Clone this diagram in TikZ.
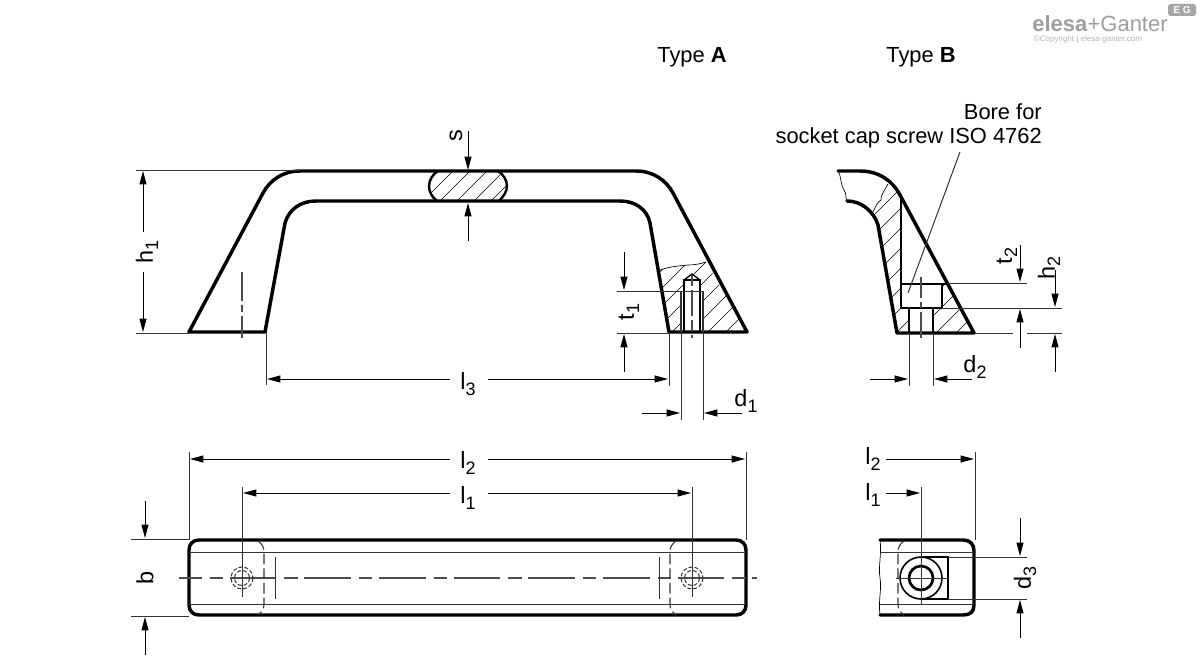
\documentclass[tikz,border=0pt]{standalone}
\usepackage{fontspec}
\setmainfont{Liberation Sans}
\usetikzlibrary{arrows.meta}
\tikzset{
  outline/.style={line width=2.6pt,line join=round,line cap=round},
  midline/.style={line width=1.5pt,line join=miter},
  thinline/.style={line width=0.75pt,color=black!80},
  hatchline/.style={line width=0.5pt},
  dimline/.style={line width=0.7pt,-{Stealth[length=10pt,width=5.2pt,inset=0pt]}},
  centreline/.style={line width=0.8pt,color=black!70,dash pattern=on 35pt off 6pt on 10pt off 5pt,dash phase=18pt},
  hiddenline/.style={line width=0.8pt,color=black!80,dash pattern=on 8pt off 3pt},
  breakline/.style={line width=0.5pt},
  textlabel/.style={font=\fontsize{16.4}{20}\selectfont,inner sep=0pt},
  dimlabel/.style={font=\fontsize{17.6}{20}\selectfont,inner sep=3pt},
}
\newcommand{\hatchfrom}[3]{\foreach \hx in {#1,...,#2} {\draw[hatchline] (\hx,#3) -- ++(220,-220);}}
\newcommand{\idx}[1]{\raisebox{-0.42ex}{\fontsize{13.5}{14}\selectfont #1}}

\begin{document}
\begin{tikzpicture}[x=0.75pt,y=0.75pt,yscale=-1,xscale=1]
\useasboundingbox (0,0) rectangle (1200,660);

% Text Node
\draw (692,57) node (typea) [textlabel] {Type \textbf{A}};
\draw (921,57) node (typeb) [textlabel] {Type \textbf{B}};
\draw (1042,112) node (boretxt) [textlabel,anchor=east] {Bore for};
\draw (1042,138) node (screwtxt) [textlabel,anchor=east] {socket cap screw ISO 4762};

% Logo
\draw (1100,24) node (logotxt) [inner sep=0pt,color=black!38,font=\fontsize{16.5}{18}\selectfont] {\textbf{elesa}+Ganter};
\draw (1088,39) node (copytxt) [inner sep=0pt,color=black!30,font=\fontsize{6}{7}\selectfont] {©Copyright | elesa-ganter.com};
\draw (1182,10) node (logobox) [inner sep=0pt,minimum width=21pt,minimum height=9pt,rounded corners=2pt,fill=black!35,text=white,font=\fontsize{7.5}{8}\bfseries\selectfont] {E G};

%Shape: hatching Type A
\begin{scope}
\clip (660,270) .. controls (672,266) and (680,266) .. (688,265) .. controls (694,265) and (700,264) .. (706,262) -- (747,332) -- (669,332) -- cycle;
\hatchfrom{600,618}{744}{332}
\end{scope}
\fill[white] (681,291) rectangle (703,332);
\fill[white] (684,279) -- (692,274) -- (700,279) -- (700,291) -- (684,291) -- cycle;
\draw[breakline] (660,270) .. controls (672,266) and (680,266) .. (688,265) .. controls (694,265) and (700,264) .. (706,262);

%Shape: section at s
\begin{scope}
\clip (438,171) -- (498,171) .. controls (503,174) and (507,180) .. (507,186) .. controls (507,192) and (503,197) .. (499,201) -- (437,201) .. controls (432,197) and (429,192) .. (429,186) .. controls (429,180) and (433,174) .. (438,171) -- cycle;
\hatchfrom{423,440}{500}{201}
\end{scope}
\draw[midline,line width=1.8pt] (438,171) .. controls (433,174) and (429,180) .. (429,186) .. controls (429,192) and (432,197) .. (437,201);
\draw[midline,line width=1.8pt] (498,171) .. controls (503,174) and (507,180) .. (507,186) .. controls (507,192) and (503,197) .. (499,201);

%Shape: handle front
\draw[outline] (189,332) -- (263,193) .. controls (270,180) and (283,171) .. (300,171) -- (636,171) .. controls (653,171) and (666,180) .. (673,193) -- (747,332) -- (669,332) -- (650,223) .. controls (647,209) and (635,201) .. (620,201) -- (316,201) .. controls (301,201) and (289,209) .. (285,223) -- (265,332) -- cycle;

%Shape: threaded hole
\draw[midline] (684,332) -- (684,280) -- (700,280) -- (700,332);
\draw[line width=1pt] (684,280) -- (692,274) -- (700,280);
\draw[thinline,line width=0.9pt] (681,291) -- (681,332);
\draw[thinline,line width=0.9pt] (703,291) -- (703,332);
\draw[centreline,dash pattern=on 8pt off 3pt on 20pt off 3pt,dash phase=0pt] (692,275) -- (692,338);
\draw[centreline,dash pattern=on 22pt off 3pt on 5pt off 3pt on 20pt,dash phase=0pt] (242,272) -- (242,338);

% dimension s
\draw[dimline] (468,131) -- (468,170);
\draw[dimline] (468,241) -- (468,203);
\draw (456,136) node (slabel) [dimlabel,rotate=90] {s};

% dimension h1
\draw[thinline] (136,170) -- (300,170);
\draw[thinline] (136,333) -- (189,333);
\draw (147,252) node (honelabel) [dimlabel,rotate=90] {h\idx{1}};
\draw[dimline] (143,232) -- (143,171);
\draw[dimline] (143,272) -- (143,332);

% dimension t1
\draw[thinline] (617,291) -- (703,291);
\draw[thinline] (617,333) -- (669,333);
\draw[dimline] (624,252) -- (624,290);
\draw[dimline] (624,372) -- (624,334);
\draw (629,312) node (tonelabel) [dimlabel,rotate=90] {t\idx{1}};

% dimension l3
\draw[thinline] (266,332) -- (266,385);
\draw[thinline] (669,332) -- (669,386);
\draw (468,384) node (lthreelabel) [dimlabel,inner sep=9pt] {l\idx{3}};
\draw[dimline] (450,379) -- (267,379);
\draw[dimline] (488,379) -- (668,379);

% dimension d1
\draw[thinline] (681,332) -- (681,420);
\draw[thinline] (703,332) -- (703,420);
\draw[dimline] (642,413) -- (680,413);
\draw[dimline] (742,413) -- (704,413);
\draw (746,401) node (donelabel) [dimlabel] {d\idx{1}};

%Shape: Type B section hatching
\begin{scope}
\clip (847,201) .. controls (862,202) and (873,212) .. (878,225) -- (897,333) -- (974,333) -- (900,195) .. controls (896,188) and (892,184) .. (888,182) .. controls (886,190) and (880,196) .. (881,200) .. controls (876,202) and (875,208) .. (873,212) -- cycle;
\hatchfrom{716,736}{1000}{333}
\end{scope}
\fill[white] (901,195) -- (948,284) -- (901,284) -- cycle;
\fill[white] (901,284) rectangle (942,308);
\fill[white] (909,308) rectangle (933,333);
\draw[breakline] (888,184) .. controls (885,190) and (880,196) .. (881,200) .. controls (877,202) and (875,208) .. (873,212);
\draw[breakline] (838,171) .. controls (842,178) and (840,184) .. (844,190) .. controls (847,194) and (845,198) .. (847,201);

%Shape: Type B section
\draw[outline] (838,171) -- (860,171) .. controls (878,171) and (892,180) .. (900,195) -- (974,333) -- (897,333) -- (878,225) .. controls (874,212) and (862,201) .. (847,201);
\draw[midline] (901,195) -- (901,308) -- (942,308) -- (942,284);
\draw[midline] (901,284) -- (947,284);
\draw[midline] (909,308) -- (909,333);
\draw[midline] (933,308) -- (933,333);
\draw[centreline,dash pattern=on 16pt off 3pt on 4pt off 3pt on 30pt,dash phase=0pt] (921,277) -- (921,338);
\draw[thinline] (908,293) -- (960,152);

% dimension t2 and h2
\draw[thinline] (947,283) -- (1027,283);
\draw[thinline] (942,308) -- (1062,308);
\draw[thinline] (975,333) -- (1013,333);
\draw[thinline] (1027,333) -- (1062,333);
\draw[dimline] (1020,245) -- (1020,282);
\draw[dimline] (1020,348) -- (1020,309);
\draw[dimline] (1055,270) -- (1055,307);
\draw[dimline] (1055,372) -- (1055,334);
\draw (1007,256) node (ttwolabel) [dimlabel,rotate=90] {t\idx{2}};
\draw (1049,268) node (htwolabel) [dimlabel,rotate=90] {h\idx{2}};

% dimension d2
\draw[thinline] (909,333) -- (909,386);
\draw[thinline] (933,333) -- (933,386);
\draw[dimline] (870,379) -- (908,379);
\draw[dimline] (972,379) -- (934,379);
\draw (975,367) node (dtwolabel) [dimlabel] {d\idx{2}};

%Shape: bottom view
\draw[outline] (199,540) -- (736,540) .. controls (742,540) and (746,544) .. (746,550) -- (746,605) .. controls (746,611) and (742,615) .. (736,615) -- (199,615) .. controls (193,615) and (189,611) .. (189,605) -- (189,550) .. controls (189,544) and (193,540) .. (199,540) -- cycle;
\draw[thinline] (189,552) -- (746,552);
\draw[thinline] (189,604) -- (746,604);
\draw[centreline] (179,578) -- (757,578);
\draw[hiddenline] (258,541) .. controls (262,544) and (264,547) .. (264,552) -- (264,604) .. controls (264,609) and (262,612) .. (258,615);
\draw[hiddenline] (676,541) .. controls (672,544) and (670,547) .. (670,552) -- (670,604) .. controls (670,609) and (672,612) .. (676,615);
\draw[thinline] (275,557) -- (275,599);
\draw[thinline] (659,557) -- (659,599);
\foreach \hx in {242,692} {
  \draw[thinline,dash pattern=on 3pt off 1.5pt] (\hx,578) circle (11);
  \draw[thinline,dash pattern=on 3pt off 1.5pt] (\hx,578) circle (7.5);
}

% dimension b
\draw[thinline] (131,539) -- (189,539);
\draw[thinline] (131,616) -- (189,616);
\draw[dimline] (145,501) -- (145,538);
\draw[dimline] (145,655) -- (145,617);
\draw (145,578) node (blabel) [dimlabel,rotate=90] {b};

% dimension l2
\draw[thinline] (189,452) -- (189,540);
\draw[thinline] (746,452) -- (746,540);
\draw (468,463) node (ltwolabel) [dimlabel,inner sep=9pt] {l\idx{2}};
\draw[dimline] (450,459) -- (190,459);
\draw[dimline] (488,459) -- (745,459);

% dimension l1
\draw[thinline] (242,487) -- (242,597);
\draw[thinline] (692,487) -- (692,597);
\draw (468,498) node (lonelabel) [dimlabel,inner sep=9pt] {l\idx{1}};
\draw[dimline] (450,493) -- (243,493);
\draw[dimline] (488,493) -- (691,493);

%Shape: Type B bottom view
\draw[outline] (880,540) -- (963,540) .. controls (970,540) and (974,544) .. (974,551) -- (974,605) .. controls (974,612) and (970,615) .. (963,615) -- (880,615);
\draw[breakline] (880,540) .. controls (882,555) and (878,565) .. (880,578) .. controls (882,590) and (878,600) .. (880,615);
\draw[thinline] (880,552) -- (974,552);
\draw[thinline] (880,604) -- (974,604);
\draw[hiddenline] (904,541) .. controls (900,544) and (898,547) .. (898,552) -- (898,604) .. controls (898,609) and (900,612) .. (904,615);
\draw[midline,line width=1.3pt] (921,557) -- (948,557) -- (948,599) -- (921,599);
\draw[midline,line width=1.2pt] (921,578) circle (21);
\draw[midline,line width=2pt] (921,578) circle (12);
\draw[thinline] (896,578) -- (948,578);
\draw[thinline] (921,487) -- (921,604);

% dimension l1 l2 type B
\draw[thinline] (975,452) -- (975,540);
\draw (873,459) node (ltwoblabel) [dimlabel] {l\idx{2}};
\draw[dimline] (886,459) -- (974,459);
\draw (873,495) node (loneblabel) [dimlabel] {l\idx{1}};
\draw[dimline] (886,493) -- (920,493);

% dimension d3
\draw[thinline] (948,557) -- (1027,557);
\draw[thinline] (948,599) -- (1027,599);
\draw[dimline] (1020,518) -- (1020,556);
\draw[dimline] (1020,638) -- (1020,600);
\draw (1025,578) node (dthreelabel) [dimlabel,rotate=90] {d\idx{3}};

\end{tikzpicture}
\end{document}
